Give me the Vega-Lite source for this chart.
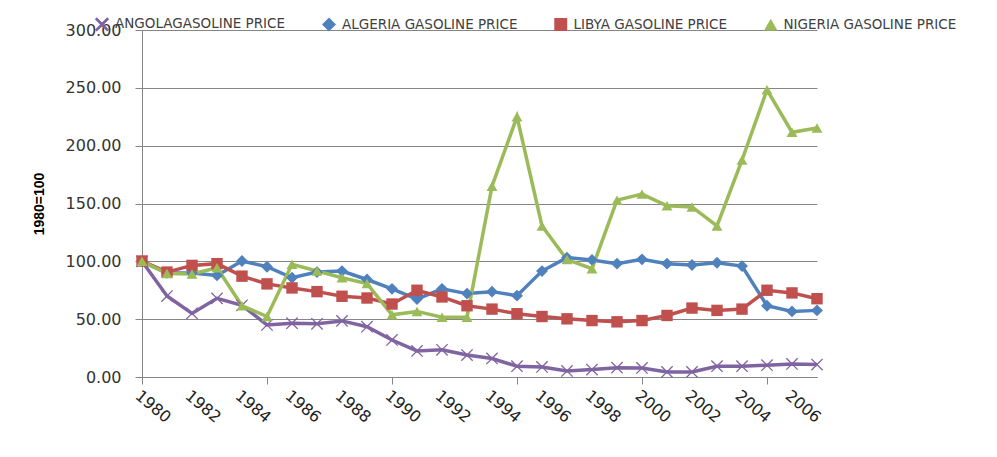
{
  "$schema": "https://vega.github.io/schema/vega-lite/v6.json",
  "autosize": {"type": "none"},
  "width": 675,
  "height": 347,
  "padding": {"left": 142, "top": 30, "right": 180, "bottom": 80},
  "background": "white",
  "config": {
    "view": {"stroke": null},
    "font": "DejaVu Sans"
  },
  "data": {"values": [
    {"series":"ANGOLAGASOLINE PRICE","year":1980,"value":100},
    {"series":"ANGOLAGASOLINE PRICE","year":1981,"value":70},
    {"series":"ANGOLAGASOLINE PRICE","year":1982,"value":55},
    {"series":"ANGOLAGASOLINE PRICE","year":1983,"value":68},
    {"series":"ANGOLAGASOLINE PRICE","year":1984,"value":62},
    {"series":"ANGOLAGASOLINE PRICE","year":1985,"value":45},
    {"series":"ANGOLAGASOLINE PRICE","year":1986,"value":46.5},
    {"series":"ANGOLAGASOLINE PRICE","year":1987,"value":46},
    {"series":"ANGOLAGASOLINE PRICE","year":1988,"value":48.5},
    {"series":"ANGOLAGASOLINE PRICE","year":1989,"value":43.5},
    {"series":"ANGOLAGASOLINE PRICE","year":1990,"value":32},
    {"series":"ANGOLAGASOLINE PRICE","year":1991,"value":22.5},
    {"series":"ANGOLAGASOLINE PRICE","year":1992,"value":23.5},
    {"series":"ANGOLAGASOLINE PRICE","year":1993,"value":19},
    {"series":"ANGOLAGASOLINE PRICE","year":1994,"value":16},
    {"series":"ANGOLAGASOLINE PRICE","year":1995,"value":9.3},
    {"series":"ANGOLAGASOLINE PRICE","year":1996,"value":8.7},
    {"series":"ANGOLAGASOLINE PRICE","year":1997,"value":5.2},
    {"series":"ANGOLAGASOLINE PRICE","year":1998,"value":6.4},
    {"series":"ANGOLAGASOLINE PRICE","year":1999,"value":8.1},
    {"series":"ANGOLAGASOLINE PRICE","year":2000,"value":7.8},
    {"series":"ANGOLAGASOLINE PRICE","year":2001,"value":4.4},
    {"series":"ANGOLAGASOLINE PRICE","year":2002,"value":4.4},
    {"series":"ANGOLAGASOLINE PRICE","year":2003,"value":9.3},
    {"series":"ANGOLAGASOLINE PRICE","year":2004,"value":9.3},
    {"series":"ANGOLAGASOLINE PRICE","year":2005,"value":10.2},
    {"series":"ANGOLAGASOLINE PRICE","year":2006,"value":11.3},
    {"series":"ANGOLAGASOLINE PRICE","year":2007,"value":10.8},
    {"series":"ALGERIA GASOLINE PRICE","year":1980,"value":100},
    {"series":"ALGERIA GASOLINE PRICE","year":1981,"value":90},
    {"series":"ALGERIA GASOLINE PRICE","year":1982,"value":90},
    {"series":"ALGERIA GASOLINE PRICE","year":1983,"value":87.8},
    {"series":"ALGERIA GASOLINE PRICE","year":1984,"value":100.3},
    {"series":"ALGERIA GASOLINE PRICE","year":1985,"value":95.3},
    {"series":"ALGERIA GASOLINE PRICE","year":1986,"value":85.8},
    {"series":"ALGERIA GASOLINE PRICE","year":1987,"value":90.7},
    {"series":"ALGERIA GASOLINE PRICE","year":1988,"value":91.6},
    {"series":"ALGERIA GASOLINE PRICE","year":1989,"value":84.3},
    {"series":"ALGERIA GASOLINE PRICE","year":1990,"value":76.2},
    {"series":"ALGERIA GASOLINE PRICE","year":1991,"value":67.4},
    {"series":"ALGERIA GASOLINE PRICE","year":1992,"value":76.2},
    {"series":"ALGERIA GASOLINE PRICE","year":1993,"value":72.1},
    {"series":"ALGERIA GASOLINE PRICE","year":1994,"value":73.8},
    {"series":"ALGERIA GASOLINE PRICE","year":1995,"value":70.3},
    {"series":"ALGERIA GASOLINE PRICE","year":1996,"value":91.6},
    {"series":"ALGERIA GASOLINE PRICE","year":1997,"value":103.2},
    {"series":"ALGERIA GASOLINE PRICE","year":1998,"value":101.2},
    {"series":"ALGERIA GASOLINE PRICE","year":1999,"value":98},
    {"series":"ALGERIA GASOLINE PRICE","year":2000,"value":101.7},
    {"series":"ALGERIA GASOLINE PRICE","year":2001,"value":98},
    {"series":"ALGERIA GASOLINE PRICE","year":2002,"value":96.8},
    {"series":"ALGERIA GASOLINE PRICE","year":2003,"value":98.8},
    {"series":"ALGERIA GASOLINE PRICE","year":2004,"value":95.9},
    {"series":"ALGERIA GASOLINE PRICE","year":2005,"value":61.6},
    {"series":"ALGERIA GASOLINE PRICE","year":2006,"value":56.7},
    {"series":"ALGERIA GASOLINE PRICE","year":2007,"value":57.6},
    {"series":"LIBYA GASOLINE PRICE","year":1980,"value":100.3},
    {"series":"LIBYA GASOLINE PRICE","year":1981,"value":90.7},
    {"series":"LIBYA GASOLINE PRICE","year":1982,"value":96.5},
    {"series":"LIBYA GASOLINE PRICE","year":1983,"value":98},
    {"series":"LIBYA GASOLINE PRICE","year":1984,"value":87.2},
    {"series":"LIBYA GASOLINE PRICE","year":1985,"value":80.5},
    {"series":"LIBYA GASOLINE PRICE","year":1986,"value":77},
    {"series":"LIBYA GASOLINE PRICE","year":1987,"value":73.8},
    {"series":"LIBYA GASOLINE PRICE","year":1988,"value":69.8},
    {"series":"LIBYA GASOLINE PRICE","year":1989,"value":68.3},
    {"series":"LIBYA GASOLINE PRICE","year":1990,"value":63.1},
    {"series":"LIBYA GASOLINE PRICE","year":1991,"value":75},
    {"series":"LIBYA GASOLINE PRICE","year":1992,"value":69.2},
    {"series":"LIBYA GASOLINE PRICE","year":1993,"value":61.6},
    {"series":"LIBYA GASOLINE PRICE","year":1994,"value":58.7},
    {"series":"LIBYA GASOLINE PRICE","year":1995,"value":54.7},
    {"series":"LIBYA GASOLINE PRICE","year":1996,"value":52.3},
    {"series":"LIBYA GASOLINE PRICE","year":1997,"value":50.3},
    {"series":"LIBYA GASOLINE PRICE","year":1998,"value":48.8},
    {"series":"LIBYA GASOLINE PRICE","year":1999,"value":47.7},
    {"series":"LIBYA GASOLINE PRICE","year":2000,"value":48.8},
    {"series":"LIBYA GASOLINE PRICE","year":2001,"value":53.2},
    {"series":"LIBYA GASOLINE PRICE","year":2002,"value":59.6},
    {"series":"LIBYA GASOLINE PRICE","year":2003,"value":57.6},
    {"series":"LIBYA GASOLINE PRICE","year":2004,"value":58.7},
    {"series":"LIBYA GASOLINE PRICE","year":2005,"value":75},
    {"series":"LIBYA GASOLINE PRICE","year":2006,"value":72.7},
    {"series":"LIBYA GASOLINE PRICE","year":2007,"value":67.7},
    {"series":"NIGERIA GASOLINE PRICE","year":1980,"value":100},
    {"series":"NIGERIA GASOLINE PRICE","year":1981,"value":89.5},
    {"series":"NIGERIA GASOLINE PRICE","year":1982,"value":89},
    {"series":"NIGERIA GASOLINE PRICE","year":1983,"value":94.5},
    {"series":"NIGERIA GASOLINE PRICE","year":1984,"value":61.6},
    {"series":"NIGERIA GASOLINE PRICE","year":1985,"value":52.3},
    {"series":"NIGERIA GASOLINE PRICE","year":1986,"value":97.4},
    {"series":"NIGERIA GASOLINE PRICE","year":1987,"value":91.6},
    {"series":"NIGERIA GASOLINE PRICE","year":1988,"value":85.8},
    {"series":"NIGERIA GASOLINE PRICE","year":1989,"value":80.8},
    {"series":"NIGERIA GASOLINE PRICE","year":1990,"value":53.8},
    {"series":"NIGERIA GASOLINE PRICE","year":1991,"value":56.7},
    {"series":"NIGERIA GASOLINE PRICE","year":1992,"value":51.7},
    {"series":"NIGERIA GASOLINE PRICE","year":1993,"value":51.7},
    {"series":"NIGERIA GASOLINE PRICE","year":1994,"value":165},
    {"series":"NIGERIA GASOLINE PRICE","year":1995,"value":225},
    {"series":"NIGERIA GASOLINE PRICE","year":1996,"value":130.6},
    {"series":"NIGERIA GASOLINE PRICE","year":1997,"value":101.5},
    {"series":"NIGERIA GASOLINE PRICE","year":1998,"value":93.6},
    {"series":"NIGERIA GASOLINE PRICE","year":1999,"value":152.9},
    {"series":"NIGERIA GASOLINE PRICE","year":2000,"value":158.1},
    {"series":"NIGERIA GASOLINE PRICE","year":2001,"value":148},
    {"series":"NIGERIA GASOLINE PRICE","year":2002,"value":147},
    {"series":"NIGERIA GASOLINE PRICE","year":2003,"value":130.6},
    {"series":"NIGERIA GASOLINE PRICE","year":2004,"value":187.6},
    {"series":"NIGERIA GASOLINE PRICE","year":2005,"value":248.3},
    {"series":"NIGERIA GASOLINE PRICE","year":2006,"value":211.6},
    {"series":"NIGERIA GASOLINE PRICE","year":2007,"value":215.3}
  ]},
  "encoding": {
    "y": {
      "field": "value", "type": "quantitative",
      "scale": {"domain": [0, 300], "nice": false},
      "axis": {
        "title": "1980=100",
        "titleFont": "Liberation Sans", "titleFontSize": 14, "titleFontWeight": "bold", "titleColor": "#000",
        "titlePadding": 19,
        "values": [0, 50, 100, 150, 200, 250, 300],
        "format": ".2f",
        "labelFont": "DejaVu Sans", "labelFontSize": 16, "labelColor": "#333",
        "labelPadding": 14,
        "tickSize": 7, "tickColor": "#868686",
        "domainColor": "#868686",
        "grid": true, "gridColor": "#868686", "gridWidth": 1
      }
    }
  },
  "layer": [
    {
      "mark": {"type": "line", "strokeWidth": 3.5},
      "encoding": {
        "x": {
          "field": "year", "type": "quantitative",
          "scale": {"domain": [1980, 2007], "nice": false, "zero": false},
          "axis": {
            "title": null,
            "values": [1980,1982,1984,1986,1988,1990,1992,1994,1996,1998,2000,2002,2004,2006],
            "format": "d",
            "labelAngle": 40,
            "labelFont": "DejaVu Sans", "labelFontSize": 16, "labelColor": "#222",
            "labelPadding": 10,
            "ticks": false,
            "domainColor": "#868686",
            "grid": false
          }
        },
        "color": {
          "field": "series", "type": "nominal",
          "scale": {
            "domain": ["ANGOLAGASOLINE PRICE","ALGERIA GASOLINE PRICE","LIBYA GASOLINE PRICE","NIGERIA GASOLINE PRICE"],
            "range": ["#8064A2","#4F81BD","#C0504D","#9BBB59"]
          },
          "legend": {
            "title": null,
            "orient": "none",
            "legendX": -47,
            "legendY": -13,
            "direction": "horizontal",
            "labelFont": "DejaVu Sans", "labelFontSize": 13.5, "labelColor": "#404040",
            "labelLimit": 400,
            "symbolSize": 110,
            "labelOffset": 6,
            "columnPadding": 34
          }
        }
      }
    },
    {
      "mark": {"type": "point", "filled": true, "opacity": 1},
      "encoding": {
        "x": {
          "field": "year", "type": "quantitative",
          "axis": {
            "title": null, "orient": "bottom",
            "values": [1980,1985,1990,1995,2000,2005],
            "labels": false, "domain": false, "grid": false,
            "ticks": true, "tickSize": 7, "tickColor": "#868686"
          }
        },
        "color": {"field": "series", "type": "nominal"},
        "shape": {
          "field": "series", "type": "nominal",
          "scale": {
            "domain": ["ANGOLAGASOLINE PRICE","ALGERIA GASOLINE PRICE","LIBYA GASOLINE PRICE","NIGERIA GASOLINE PRICE"],
            "range": ["M-1,-0.85L-0.85,-1L0,-0.15L0.85,-1L1,-0.85L0.15,0L1,0.85L0.85,1L0,0.15L-0.85,1L-1,0.85L-0.15,0Z","diamond","square","triangle-up"]
          }
        },
        "size": {
          "field": "series", "type": "nominal",
          "scale": {
            "domain": ["ANGOLAGASOLINE PRICE","ALGERIA GASOLINE PRICE","LIBYA GASOLINE PRICE","NIGERIA GASOLINE PRICE"],
            "range": [150, 120, 170, 150]
          },
          "legend": null
        }
      }
    }
  ],
  "resolve": {"axis": {"x": "independent"}}
}
